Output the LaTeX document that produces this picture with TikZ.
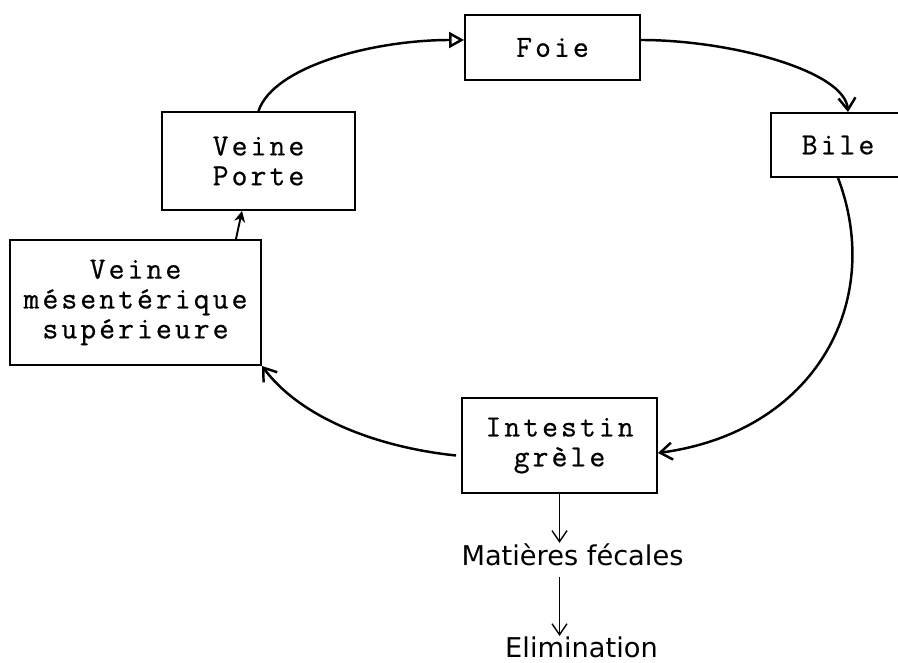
\documentclass[tikz,border=0pt]{standalone}
\usepackage{fontspec}
\newfontfamily\outfont{DejaVu Sans}
\newfontfamily\boxfont{Latin Modern Mono}[LetterSpace=10, FakeBold=0.6]
\usetikzlibrary{arrows.meta}

\begin{document}
\begin{tikzpicture}[
    box/.style={rectangle, draw, line width=1.1pt, align=center, inner sep=0pt, font=\boxfont\fontsize{17.5}{17}\selectfont},
    outtext/.style={inner sep=0pt, font=\outfont\fontsize{15.5}{18}\selectfont},
    flow/.style={line width=1.4pt, -{Straight Barb[length=2.4mm, width=3.4mm]}},
    thinflow/.style={line width=0.8pt, -{Straight Barb[length=2.2mm, width=3mm]}}
]
\useasboundingbox (0, 0) rectangle (17.96, 13.24);

% Boxes of the cycle
\node[box, minimum width=3.5cm, minimum height=1.3cm] (foie) at (11.05, 12.29) {Foie};
\node[box, minimum width=2.68cm, minimum height=1.28cm] (bile) at (16.76, 10.34) {Bile};
\node[box, minimum width=3.86cm, minimum height=1.96cm] (porte) at (5.17, 10.02) {Veine\\Porte};
\node[box, minimum width=5.02cm, minimum height=2.5cm] (mesent) at (2.71, 7.19) {Veine\\mésentérique\\supérieure};
\node[box, minimum width=3.9cm, minimum height=1.9cm] (intestin) at (11.19, 4.33) {Intestin\\grèle};

% Exit of the cycle
\node[outtext, anchor=base] (matieres) at (11.45, 1.94) {Matières fécales};
\node[outtext, anchor=base] (elim) at (11.63, 0.1) {Elimination};

% Cycle
\draw[line width=1.4pt, -{Triangle[open, length=3mm, width=3.2mm]}] (porte.north) .. controls +(0.3, 0.9) and +(-1.8, 0) .. ([yshift=0.15cm]foie.west);
\draw[flow] ([yshift=0.15cm]foie.east) .. controls +(1.8, 0) and +(-0.06, 0.82) .. ([xshift=0.2cm]bile.north);
\draw[flow] (bile.south) .. controls (17.7, 7.2) and (16.3, 4.6) .. ([yshift=-0.15cm]intestin.east);
\draw[flow] ([xshift=-0.1cm, yshift=-0.2cm]intestin.west) .. controls (7.5, 4.3) and (6.0, 4.9) .. (mesent.south east);
\draw[line width=1.1pt, -{Stealth[length=2.2mm, width=2.2mm]}] ([xshift=-0.52cm]mesent.north east) -- ([xshift=-0.33cm]porte.south);

% Elimination
\draw[thinflow] (intestin.south) -- (intestin.south |- matieres.north);
\draw[thinflow] ([yshift=-0.24cm]intestin.south |- matieres.base) -- (intestin.south |- elim.north);

\end{tikzpicture}
\end{document}
